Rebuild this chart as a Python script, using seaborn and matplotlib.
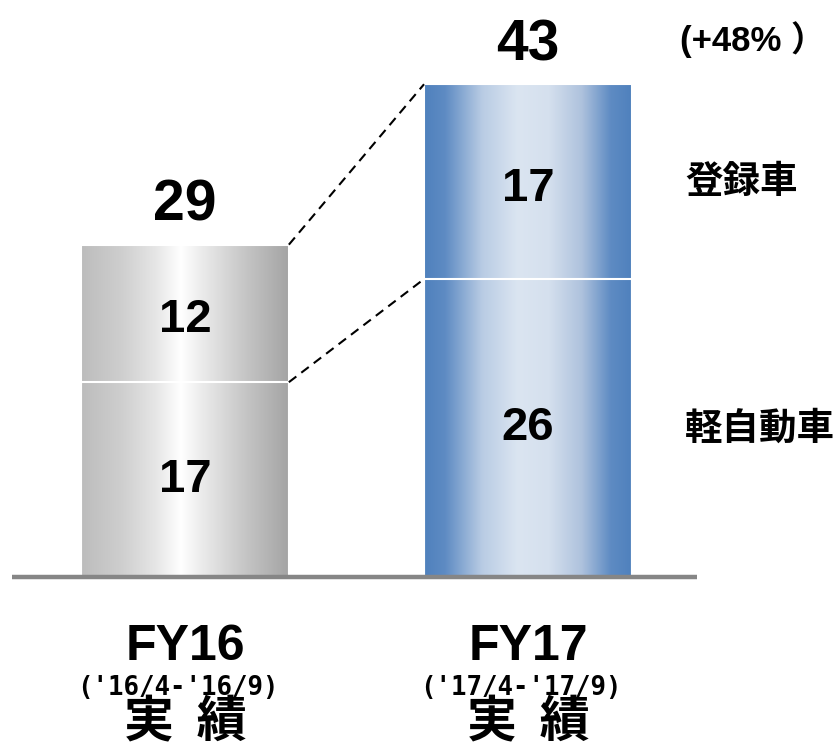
import numpy as np
import matplotlib
matplotlib.use("Agg")
import matplotlib.pyplot as plt
from matplotlib.colors import LinearSegmentedColormap
import seaborn as sns

# ---------------------------
# Data
# ---------------------------
periods = ["FY16", "FY17"]
period_ranges = ["('16/4-'16/9)", "('17/4-'17/9)"]
period_kind = ["実  績", "実  績"]
kei = [17, 26]        # 軽自動車
touroku = [12, 17]    # 登録車
totals = [k + t for k, t in zip(kei, touroku)]
segment_names = ["軽自動車", "登録車"]
growth_label = "(+48% ）"

sns.set_theme(style="white")
plt.rcParams['font.family'] = ['Liberation Sans', 'Noto Sans CJK JP', 'DejaVu Sans']

fig = plt.figure(figsize=(8.34, 7.48), dpi=100)
ax = fig.add_axes([0, 0, 1, 1])

bar_w = 0.606
sns.barplot(x=periods, y=totals, width=bar_w, color="white", saturation=1,
            edgecolor="white", linewidth=1.5, ax=ax)
sns.barplot(x=periods, y=kei, width=bar_w, color="white", saturation=1,
            edgecolor="white", linewidth=1.5, ax=ax)

# gradient fills
grey_cmap = LinearSegmentedColormap.from_list("grey", [
    (0.0, "#bcbcbc"), (0.2, "#cfcfcf"), (0.36, "#e6e6e6"), (0.48, "#ffffff"),
    (0.6, "#e8e8e8"), (0.8, "#c4c4c4"), (1.0, "#a4a4a4")])
blue_cmap = LinearSegmentedColormap.from_list("blue", [
    (0.0, "#4f81bd"), (0.1, "#5e8bc3"), (0.28, "#b9cce4"), (0.45, "#dbe5f1"),
    (0.6, "#d5e0ee"), (0.76, "#aec2dd"), (0.9, "#5e8bc3"), (1.0, "#4f81bd")])
cmaps = [grey_cmap, blue_cmap]

grad = np.linspace(0, 1, 256).reshape(1, -1)
n = len(periods)
for i, p in enumerate(ax.patches[:n]):
    x0, y0 = p.get_x(), p.get_y()
    w, h = p.get_width(), p.get_height()
    im = ax.imshow(grad, cmap=cmaps[i], aspect="auto", interpolation="bilinear",
                   extent=[x0, x0 + w, y0, y0 + h], zorder=2)
    im.set_clip_path(p)
    p.set_facecolor("none")
    p.set_zorder(3)
for p in ax.patches[n:]:
    p.set_facecolor("none")
    p.set_zorder(3)

# baseline
ax.plot([-0.504, 1.493], [0, 0], color="#868686", lw=3.2, zorder=4,
        solid_capstyle="butt")

# dashed connectors
ax.plot([bar_w / 2, 1 - bar_w / 2], [totals[0], totals[1]], color="black",
        lw=1.5, ls=(0, (4.5, 3)), zorder=4)
ax.plot([bar_w / 2, 1 - bar_w / 2], [kei[0], kei[1]], color="black",
        lw=1.5, ls=(0, (4.5, 3)), zorder=4)

# labels
for i in range(n):
    ax.text(i, totals[i] + 2.1, str(totals[i]), ha="center", va="baseline",
            fontsize=41, fontweight="bold", color="black", zorder=5)
    ax.text(i, kei[i] / 2, str(kei[i]), ha="center", va="center",
            fontsize=34, fontweight="bold", color="black", zorder=5)
    ax.text(i, kei[i] + touroku[i] / 2 - 0.6, str(touroku[i]), ha="center", va="center",
            fontsize=34, fontweight="bold", color="black", zorder=5)
    ax.text(i, -7.2, periods[i], ha="center", va="baseline",
            fontsize=36, fontweight="bold", color="black")
    ax.text(i - 0.02, -9.7, period_ranges[i], ha="center", va="center",
            fontsize=18.5, family="DejaVu Sans Mono", fontweight="bold", color="black")
    ax.text(i, -12.7, period_kind[i], ha="center", va="center",
            fontsize=36, fontweight="bold", family=["Noto Sans CJK JP"], color="black")

ax.text(1.443, 46.9, growth_label, ha="left", va="center", fontsize=25,
        fontweight="bold", color="black")
ax.text(1.458, kei[1] + touroku[1] / 2, segment_names[1], ha="left", va="center",
        fontsize=27, fontweight="bold", family=["Noto Sans CJK JP"], color="black")
ax.text(1.458, kei[1] / 2, segment_names[0], ha="left", va="center",
        fontsize=27, fontweight="bold", family=["Noto Sans CJK JP"], color="black")

ax.set_xlim(-0.539, 1.892)
ax.set_ylim(-14.92, 50.35)
ax.axis("off")

fig.savefig("out.png", dpi=100)
